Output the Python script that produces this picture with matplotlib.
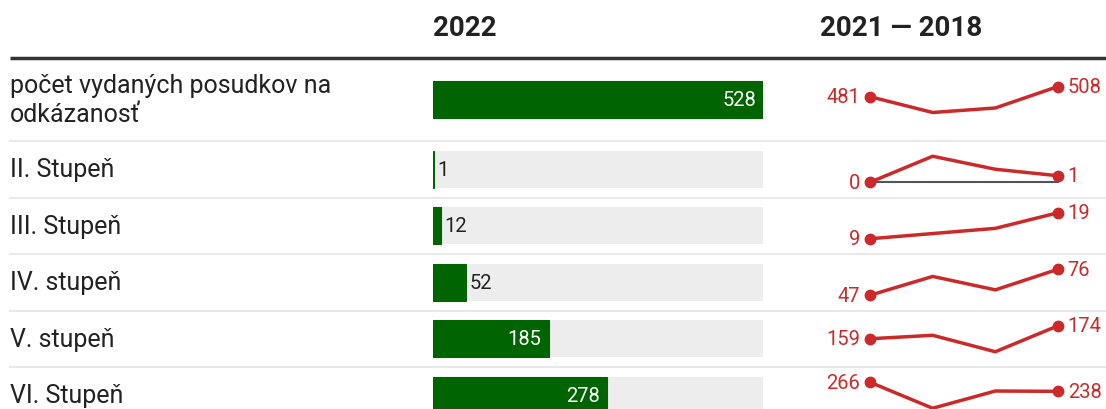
import matplotlib.pyplot as plt

plt.rcParams['font.family'] = ['Roboto', 'DejaVu Sans']

# data
labels = ["počet vydaných posudkov na\nodkázanosť", "II. Stupeň", "III. Stupeň",
          "IV. stupeň", "V. stupeň", "VI. Stupeň"]
values_2022 = [528, 1, 12, 52, 185, 278]
# 2021, 2020, 2019, 2018
trend = [
    [481, 439, 451, 508],
    [0, 4, 2, 1],
    [9, 11, 13, 19],
    [47, 68, 53, 76],
    [159, 163, 144, 174],
    [266, 186, 239, 238],
]

W, H = 1106, 410
GREEN = "#006400"
RED = "#cc2a2a"
TXT = "#222222"

# row layout in pixels
row_tops = [59, 142, 198.5, 255, 311.5, 368]
row_h = [83, 56.5, 56.5, 56.5, 56.5, 56.5]
centers = [t + h / 2 for t, h in zip(row_tops, row_h)]

fig = plt.figure(figsize=(W / 100, H / 100), dpi=100)

bg = fig.add_axes([0, 0, 1, 1])
bg.set_xlim(0, W)
bg.set_ylim(H, 0)
bg.axis("off")

bg.text(433, 28, "2022", fontsize=20, fontweight="bold", color=TXT, va="center", ha="left")
bg.text(820, 28, "2021 — 2018", fontsize=20, fontweight="bold", color=TXT, va="center", ha="left")
bg.plot([10, W], [59, 59], color="#333333", lw=2.5, solid_capstyle="butt")
for t in row_tops[1:]:
    bg.plot([10, W], [t, t], color="#e8e8e8", lw=1.5)

for lab, c in zip(labels, centers):
    bg.text(10, c, lab, fontsize=18, color=TXT, va="center", ha="left", linespacing=1.3)

# bars
vmax = max(values_2022)
bx = fig.add_axes([433 / W, 0, (763 - 433) / W, 1])
bx.set_xlim(0, vmax)
bx.set_ylim(H, 0)
bx.axis("off")
bx.barh(centers, [vmax] * len(values_2022), height=37, color="#ededed")
bx.barh(centers, values_2022, height=37, color=GREEN, edgecolor=GREEN, lw=0.8)
for v, c in zip(values_2022, centers):
    if v / vmax > 0.15:
        bx.annotate(str(v), (v, c), xytext=(-5, 0), textcoords="offset points",
                    ha="right", va="center", color="white", fontsize=14.5)
    else:
        bx.annotate(str(v), (v, c), xytext=(3, 0), textcoords="offset points",
                    ha="left", va="center", color=TXT, fontsize=14.5)

# sparklines
for vals, c in zip(trend, centers):
    sp = fig.add_axes([870 / W, 1 - (c + 13) / H, (1058 - 870) / W, 26 / H])
    sp.set_xlim(0, len(vals) - 1)
    sp.set_ylim(min(vals), max(vals))
    sp.axis("off")
    if min(vals) == 0:
        sp.axhline(0, color="#555555", lw=1.5, clip_on=False)
    xs = list(range(len(vals)))
    sp.plot(xs, vals, color=RED, lw=2.5, clip_on=False)
    sp.plot([xs[0], xs[-1]], [vals[0], vals[-1]], "o", color=RED, ms=7.5, clip_on=False)
    sp.annotate(str(vals[0]), (xs[0], vals[0]), xytext=(-7, 0), textcoords="offset points",
                ha="right", va="center", color=RED, fontsize=14.5)
    sp.annotate(str(vals[-1]), (xs[-1], vals[-1]), xytext=(7, 0), textcoords="offset points",
                ha="left", va="center", color=RED, fontsize=14.5)

fig.savefig("out.png", dpi=100)
